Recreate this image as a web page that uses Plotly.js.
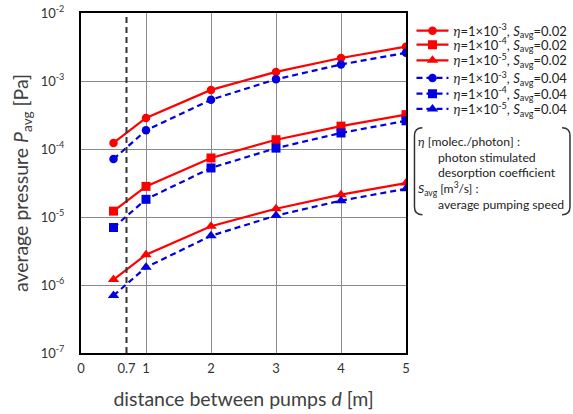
<!DOCTYPE html>
<html><head><meta charset="utf-8">
<script src="https://cdn.plot.ly/plotly-3.0.1.min.js"></script>
<style>html,body{margin:0;padding:0;background:#fff}#c{width:573px;height:414px}</style>
</head><body><div id="c"></div>
<script>
var d = [0.5, 1, 2, 3, 4, 5];
var p_e3_s02 = [1.23e-4, 2.86e-4, 7.4e-4, 1.36e-3, 2.18e-3, 3.2e-3];
var p_e4_s02 = [1.22e-5, 2.82e-5, 7.38e-5, 1.37e-4, 2.17e-4, 3.2e-4];
var p_e5_s02 = [1.2e-6, 2.79e-6, 7.3e-6, 1.32e-5, 2.13e-5, 3.15e-5];
var p_e3_s04 = [7.1e-5, 1.88e-4, 5.3e-4, 1.06e-3, 1.75e-3, 2.6e-3];
var p_e4_s04 = [7.0e-6, 1.82e-5, 5.26e-5, 1.03e-4, 1.72e-4, 2.6e-4];
var p_e5_s04 = [7.0e-7, 1.82e-6, 5.3e-6, 1.05e-5, 1.74e-5, 2.6e-5];
var names = [
 '<i>η</i>=1×10<sup>-3</sup>, <i>S</i><sub>avg</sub>=0.02',
 '<i>η</i>=1×10<sup>-4</sup>, <i>S</i><sub>avg</sub>=0.02',
 '<i>η</i>=1×10<sup>-5</sup>, <i>S</i><sub>avg</sub>=0.02',
 '<i>η</i>=1×10<sup>-3</sup>, <i>S</i><sub>avg</sub>=0.04',
 '<i>η</i>=1×10<sup>-4</sup>, <i>S</i><sub>avg</sub>=0.04',
 '<i>η</i>=1×10<sup>-5</sup>, <i>S</i><sub>avg</sub>=0.04'];
var xTickVals = [0, 0.7, 1, 2, 3, 4, 5];
var xTickText = ['0', '0.7', '1', '2', '3', '4', '5'];
var yTickVals = [1e-7, 1e-6, 1e-5, 1e-4, 1e-3, 1e-2];
var yTickText = ['10<sup>-7</sup>','10<sup>-6</sup>','10<sup>-5</sup>','10<sup>-4</sup>','10<sup>-3</sup>','10<sup>-2</sup>'];
var dashX = 0.7;

var RED = 'rgb(255,0,0)', BLUE = 'rgb(0,0,225)';
var series = [p_e3_s02, p_e4_s02, p_e5_s02, p_e3_s04, p_e4_s04, p_e5_s04];
var symbols = ['circle','square','triangle-up','circle','square','triangle-up'];
var sizes = [8.5, 9, 10, 8.5, 9, 10];
var legendIds = ['legend','legend2','legend3','legend4','legend5','legend6'];
var legendRowsPx = [31, 45, 60.7, 78.3, 94, 109.3];

var L = 80.5, W = 326, T = 13.3, H = 340;
function px(x){ return (x - L) / W; }
function py(y){ return 1 - (y - T) / H; }

var traces = series.map(function(s, i){
  var red = i < 3;
  return {x: d, y: s, name: names[i], type: 'scatter', mode: 'lines+markers', legend: legendIds[i],
    line: {color: red ? RED : BLUE, width: 2.2, dash: red ? 'solid' : '6px,4px'},
    marker: {symbol: symbols[i], size: sizes[i], color: red ? RED : BLUE}};
});

var leftPath = 'M ' + px(423) + ' ' + py(128) + ' Q ' + px(415) + ' ' + py(128) + ' ' + px(415) + ' ' + py(136) +
  ' L ' + px(415) + ' ' + py(207) + ' Q ' + px(415) + ' ' + py(215) + ' ' + px(423) + ' ' + py(215);
var rightPath = 'M ' + px(563) + ' ' + py(128) + ' Q ' + px(571) + ' ' + py(128) + ' ' + px(571) + ' ' + py(136) +
  ' L ' + px(571) + ' ' + py(207) + ' Q ' + px(571) + ' ' + py(215) + ' ' + px(563) + ' ' + py(215);

var FONT = 'Lato, "Open Sans", sans-serif';
var noteFont = {family: FONT, size: 12.2, color: '#222'};
function note(text, x, y){
  return {text: text, xref: 'paper', yref: 'paper', x: px(x), y: py(y), xanchor: 'left', yanchor: 'middle',
    showarrow: false, font: noteFont};
}

var layout = {
  width: 573, height: 414,
  margin: {l: L, r: 573 - L - W, t: T, b: 414 - T - H, autoexpand: false},
  paper_bgcolor: '#fff', plot_bgcolor: '#fff',
  font: {family: FONT, color: '#333'},
  showlegend: true,
  xaxis: {range: [0, 5], tickmode: 'array', tickvals: xTickVals, ticktext: xTickText,
    showgrid: false, zeroline: false, showline: true, mirror: true, linecolor: '#000', linewidth: 2,
    ticks: '', tickfont: {size: 13, color: '#333'}, ticklabelstandoff: 2,
    minor: {tickmode: 'array', tickvals: [1, 2, 3, 4], showgrid: true, gridcolor: '#8a8a8a', gridwidth: 1, ticks: ''},
    title: {text: 'distance between pumps <i>d</i> [m]', font: {size: 19.5, color: '#404040'}, standoff: 18}},
  yaxis: {type: 'log', range: [-7, -2], tickmode: 'array', tickvals: yTickVals, ticktext: yTickText,
    showgrid: true, gridcolor: '#8a8a8a', gridwidth: 1, zeroline: false, showline: true, mirror: true,
    linecolor: '#000', linewidth: 2, ticks: '', tickfont: {size: 13, color: '#333'}, ticklabelstandoff: 12,
    title: {text: 'average pressure <i>P</i><sub>avg</sub> [Pa]', font: {size: 19.5, color: '#404040'}, standoff: 7}},
  shapes: [
    {type: 'line', xref: 'x', yref: 'paper', x0: dashX, x1: dashX, y0: 0, y1: 1,
      line: {color: '#333', width: 2, dash: '6px,4px'}},
    {type: 'path', xref: 'paper', yref: 'paper', path: leftPath, line: {color: '#333', width: 1.5}},
    {type: 'path', xref: 'paper', yref: 'paper', path: rightPath, line: {color: '#333', width: 1.5}}
  ],
  annotations: [
    note('<i>η</i> [molec./photon] :', 417, 142),
    note('photon stimulated', 437, 158),
    note('desorption coefficient', 437, 173),
    note('<i>S</i><sub>avg</sub> [m<sup>3</sup>/s] :', 417, 189),
    note('average pumping speed', 437, 205)
  ]
};
legendIds.forEach(function(id, i){
  layout[id] = {x: px(412), y: py(legendRowsPx[i]), xanchor: 'left', yanchor: 'middle', bgcolor: 'rgba(0,0,0,0)',
    font: {family: FONT, size: 13, color: '#222'}, itemwidth: 32};
});
Plotly.newPlot('c', traces, layout, {displayModeBar: false, staticPlot: true});
</script></body></html>
